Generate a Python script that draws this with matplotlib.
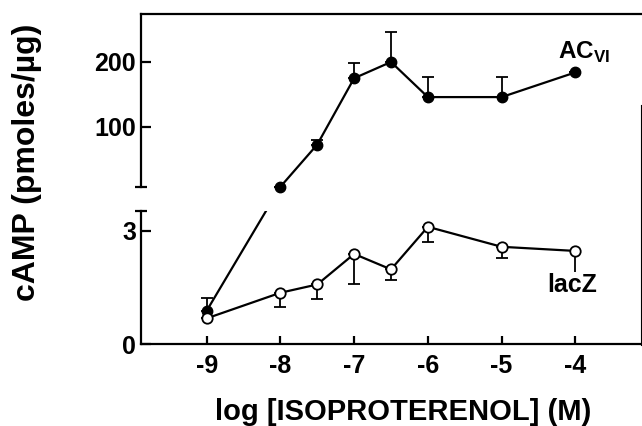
import numpy as np
import matplotlib
matplotlib.use('Agg')
import matplotlib.pyplot as plt
from matplotlib.lines import Line2D

plt.rcParams['font.family'] = ['Liberation Sans', 'DejaVu Sans']
plt.rcParams['font.weight'] = 'bold'
plt.rcParams['mathtext.fontset'] = 'custom'
plt.rcParams['mathtext.rm'] = 'Liberation Sans:bold'
plt.rcParams['mathtext.bf'] = 'Liberation Sans:bold'

# log [isoproterenol] (M)
log_iso = [-9, -8, -7.5, -7, -6.5, -6, -5, -4]

# ACVI: first point sits on the lower (0-3.5) scale, the rest on the upper scale
ac_low_x = [-9]
ac_low_val = [0.88]
ac_low_err = [0.33]
ac_x = [-8, -7.5, -7, -6.5, -6, -5, -4]
ac_val = [8, 73, 175, 200, 146, 146, 184]
ac_err = [0, 7, 23, 46, 31, 31, 0]

# lacZ (only downward error bars)
lacz_val = [0.68, 1.36, 1.58, 2.39, 1.98, 3.11, 2.58, 2.47]
lacz_err = [0, 0.37, 0.39, 0.81, 0.28, 0.40, 0.31, 0.55]

x_ticks = [-9, -8, -7, -6, -5, -4]
up_ticks = [100, 200]
lo_ticks = [0, 3]

XLIM = (-9.89, -3.11)
UP_LIM = (7.7, 273.8)
LO_LIM = (0, 3.53)

W, H = 642, 426
fig = plt.figure(figsize=(6.42, 4.26), dpi=100)
ax_up = fig.add_axes([141 / W, 1 - 187 / H, 500 / W, 173 / H])
ax_lo = fig.add_axes([141 / W, 1 - 344 / H, 500 / W, 133 / H])

lw = 1.6
for ax in (ax_up, ax_lo):
    ax.set_xlim(XLIM)
    ax.patch.set_alpha(0)
    for s in ax.spines.values():
        s.set_linewidth(lw)
    ax.spines['right'].set_visible(False)
    ax.tick_params(direction='in', width=lw, labelsize=18, pad=3.5)

ax_up.set_ylim(UP_LIM)
ax_up.spines['bottom'].set_visible(False)
ax_up.set_xticks([])
ax_up.set_yticks(up_ticks)
ax_up.tick_params(axis='y', length=7)

ax_lo.set_ylim(LO_LIM)
ax_lo.spines['top'].set_visible(False)
ax_lo.set_xticks(x_ticks)
ax_lo.set_xticklabels([str(t) for t in x_ticks])
ax_lo.tick_params(axis='x', length=6, pad=7)
ax_lo.set_yticks(lo_ticks)
ax_lo.tick_params(axis='y', length=7)

# end caps at the break
ax_up.plot(0, 0, transform=ax_up.transAxes, marker='_', ms=8, mew=lw, color='k', clip_on=False)
ax_lo.plot(0, 1, transform=ax_lo.transAxes, marker='_', ms=8, mew=lw, color='k', clip_on=False)

# right frame line
fig.add_artist(Line2D([641 / W, 641 / W], [1 - 105 / H, 1 - 345 / H], color='k', lw=0.8))

ms = 7.5
elw = 1.3
cap = 8.5

# ACVI segment crossing the break: map endpoints between the two scales
p_up = ax_up.transData.transform((ac_x[0], ac_val[0]))
p_lo = ax_lo.transData.transform((ac_low_x[0], ac_low_val[0]))
y_up_in_lo = ax_lo.transData.inverted().transform(p_up)[1]
y_lo_in_up = ax_up.transData.inverted().transform(p_lo)[1]
ax_lo.plot([ac_low_x[0], ac_x[0]], [ac_low_val[0], y_up_in_lo], color='k', lw=lw, zorder=2)
ax_up.plot([ac_low_x[0], ac_x[0]], [y_lo_in_up, ac_val[0]], color='k', lw=lw, zorder=2)

# ACVI upper part
ax_up.errorbar(ac_x, ac_val, yerr=[np.zeros(len(ac_err)), ac_err], fmt='none',
               ecolor='k', elinewidth=elw, capsize=cap / 2, capthick=elw, zorder=2)
ax_up.plot(ac_x, ac_val, color='k', lw=lw, zorder=3)
ax_up.plot(ac_x, ac_val, 'o', color='k', ms=ms, zorder=4, clip_on=False)

# ACVI lower point
ax_lo.errorbar(ac_low_x, ac_low_val, yerr=[[0], ac_low_err], fmt='none',
               ecolor='k', elinewidth=elw, capsize=cap / 2, capthick=elw, zorder=2)
ax_lo.plot(ac_low_x, ac_low_val, 'o', color='k', ms=ms, zorder=3)

# lacZ (last bar has its cap hidden under the label)
ax_lo.errorbar(log_iso[:-1], lacz_val[:-1], yerr=[lacz_err[:-1], np.zeros(len(lacz_err) - 1)],
               fmt='none', ecolor='k', elinewidth=elw, capsize=cap / 2, capthick=elw, zorder=2)
ax_lo.errorbar(log_iso[-1:], lacz_val[-1:], yerr=[lacz_err[-1:], [0]], fmt='none',
               ecolor='k', elinewidth=elw, capsize=0, zorder=2)
ax_lo.plot(log_iso, lacz_val, '-o', color='k', lw=lw, ms=ms, mfc='white', mec='k',
           mew=1.3, zorder=4)

ax_up.annotate(r'$\mathrm{AC}_{\mathrm{VI}}$', (ac_x[-1], ac_val[-1]), xytext=(9, 14),
               textcoords='offset pixels', ha='center', va='baseline', fontsize=17.5)
ax_lo.annotate('lacZ', (log_iso[-1], lacz_val[-1]), xytext=(-3, -41),
               textcoords='offset pixels', ha='center', va='baseline', fontsize=18,
               fontweight='bold')

fig.text(27 / W, 1 - 162 / H, 'cAMP (pmoles/\u00b5g)', rotation=90, ha='center', va='center',
         fontsize=23, fontweight='bold')
fig.text(403 / W, 1 - 420 / H, 'log [ISOPROTERENOL] (M)', ha='center', va='baseline',
         fontsize=21, fontweight='bold')

fig.savefig('out.png', dpi=100)
